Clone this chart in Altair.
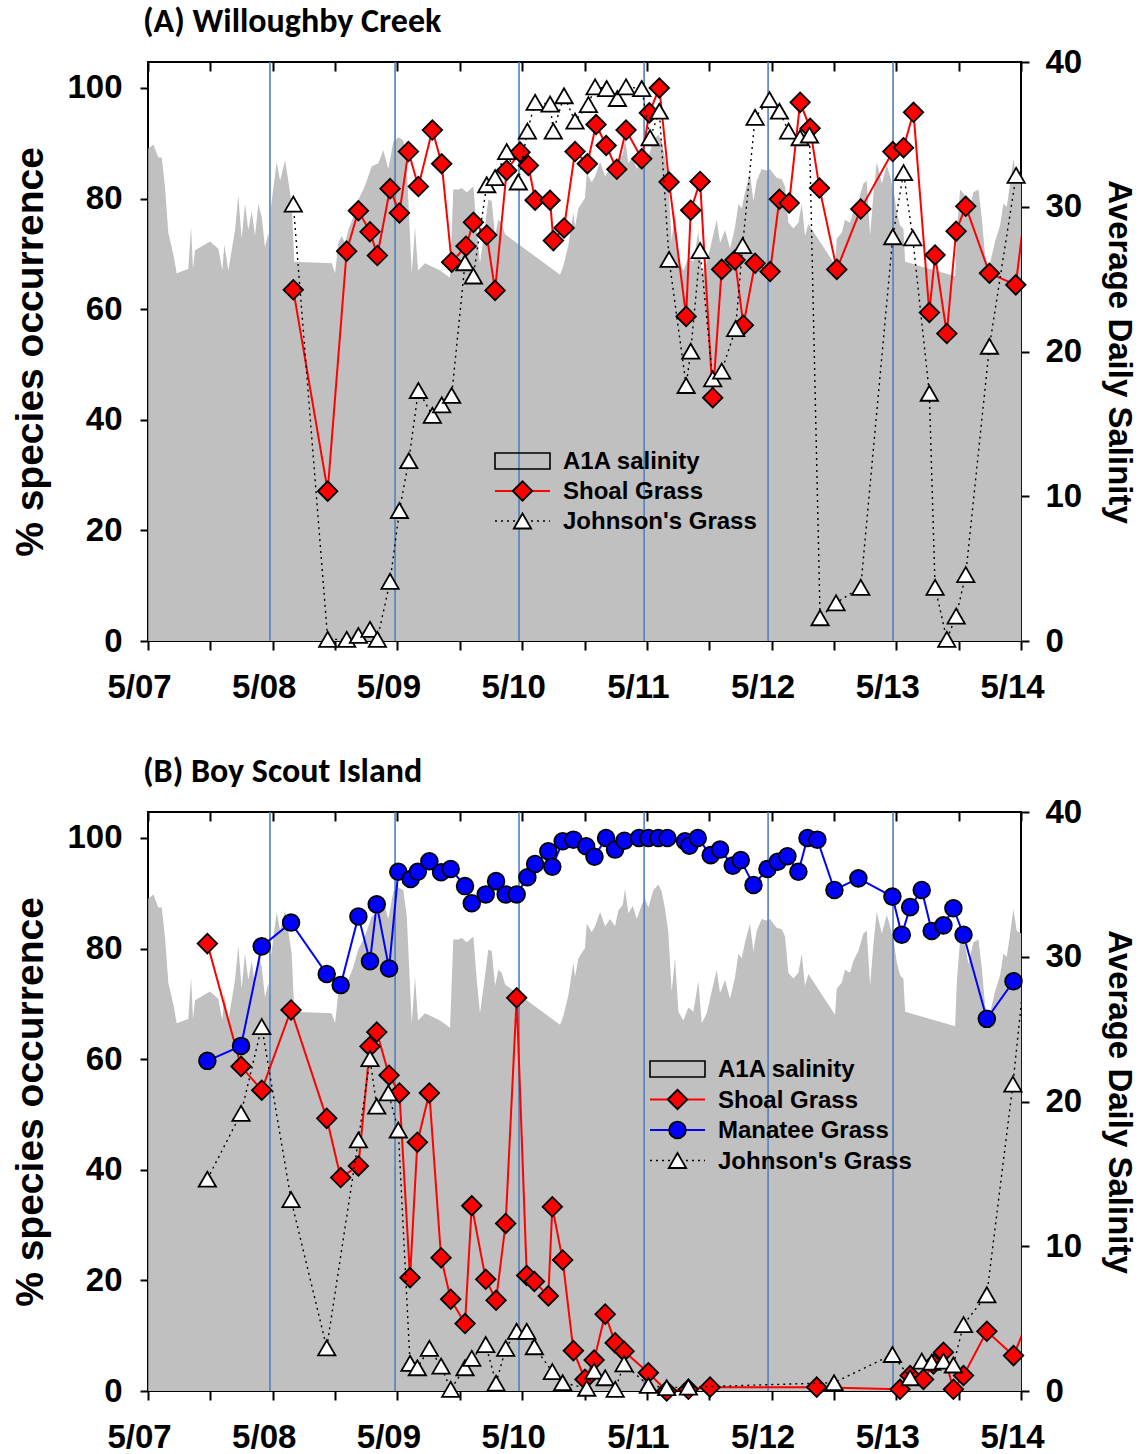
import altair as alt
import pandas as pd

# x positions are years since May 2007 (0 = "5/07", 7 = "5/14")
SALINITY = [(0.002,34.0),(0.043,34.3),(0.083,33.4),(0.110,33.4),(0.136,31.4),(0.163,28.2),(0.190,27.2),(0.208,26.5),(0.230,25.4),(0.323,25.7),(0.345,28.6),(0.361,25.7),(0.377,27.0),(0.497,27.6),(0.564,27.1),(0.596,25.6),(0.612,27.4),(0.644,25.6),(0.698,28.4),(0.724,30.8),(0.751,27.8),(0.778,30.2),(0.804,28.4),(0.832,29.7),(0.858,28.0),(0.885,30.2),(0.912,29.3),(0.938,27.2),(0.965,28.2),(0.978,27.0),(0.986,30.0),(1.032,33.1),(1.059,31.8),(1.099,33.2),(1.125,31.8),(1.152,30.2),(1.173,26.2),(1.473,26.1),(1.500,25.4),(1.526,27.5),(1.553,28.0),(1.580,27.5),(1.606,28.4),(1.646,29.3),(1.686,30.5),(1.727,31.2),(1.754,31.8),(1.794,32.8),(1.847,33.0),(1.887,33.9),(1.927,32.6),(1.967,34.5),(2.007,34.8),(2.047,34.6),(2.075,32.8),(2.115,25.4),(2.141,28.6),(2.165,25.6),(2.221,26.1),(2.342,25.6),(2.422,25.1),(2.448,31.2),(2.488,31.2),(2.516,31.3),(2.556,31.0),(2.609,31.4),(2.636,28.4),(2.662,26.1),(2.689,27.8),(2.729,30.5),(2.756,30.4),(2.783,28.0),(2.809,29.1),(2.836,28.9),(2.863,28.1),(3.304,25.3),(3.330,25.9),(3.370,27.3),(3.411,29.6),(3.424,28.6),(3.451,29.9),(3.504,30.6),(3.518,32.3),(3.558,31.7),(3.585,32.1),(3.625,33.1),(3.665,32.1),(3.705,32.6),(3.745,32.1),(3.771,33.2),(3.807,33.6),(3.825,34.7),(3.852,33.0),(3.887,33.5),(3.919,32.6),(3.959,33.6),(3.986,34.0),(4.012,33.4),(4.052,34.6),(4.092,35.0),(4.119,34.5),(4.146,33.3),(4.172,31.7),(4.199,27.6),(4.226,29.9),(4.253,26.2),(4.293,25.6),(4.333,26.5),(4.373,26.2),(4.413,28.3),(4.440,25.4),(4.480,26.1),(4.520,27.6),(4.560,29.1),(4.587,27.5),(4.627,28.4),(4.667,27.1),(4.707,28.6),(4.734,30.2),(4.761,29.9),(4.787,31.0),(4.827,32.3),(4.854,30.4),(4.881,31.8),(4.921,32.6),(4.961,32.5),(4.988,32.6),(5.014,32.3),(5.041,32.0),(5.082,31.9),(5.108,31.4),(5.135,28.9),(5.175,28.5),(5.215,28.9),(5.242,30.2),(5.268,28.0),(5.295,28.8),(5.509,26.0),(5.523,27.8),(5.563,28.2),(5.588,29.1),(5.629,28.9),(5.656,29.7),(5.696,30.4),(5.736,31.6),(5.763,31.8),(5.790,28.0),(5.816,30.8),(5.843,33.1),(5.884,31.6),(5.924,32.9),(5.950,32.1),(5.985,30.8),(6.004,29.6),(6.031,28.7),(6.057,28.5),(6.071,26.2),(6.472,25.2),(6.485,28.2),(6.512,31.2),(6.552,30.8),(6.578,29.5),(6.618,31.0),(6.659,31.2),(6.686,29.2),(6.712,26.6),(6.738,25.6),(6.792,27.6),(6.832,28.7),(6.859,30.2),(6.886,30.0),(6.913,31.6),(6.939,33.3),(6.966,31.8),(7.001,31.6)]

A_SHOAL = [(1.165,63.5),(1.441,27.1),(1.593,70.5),(1.687,77.8),(1.780,74.0),(1.839,69.7),(1.941,81.8),(2.016,77.4),(2.088,88.5),(2.168,82.2),(2.280,92.4),(2.355,86.3),(2.435,68.5),(2.550,71.4),(2.609,75.7),(2.716,73.4),(2.783,63.4),(2.876,85.1),(2.983,88.4),(3.050,86.0),(3.104,79.7),(3.224,79.7),(3.250,72.4),(3.336,74.7),(3.424,88.5),(3.523,86.3),(3.593,93.4),(3.674,89.6),(3.759,85.3),(3.833,92.4),(3.959,87.2),(4.020,95.5),(4.100,100.0),(4.178,83.0),(4.315,58.7),(4.352,77.9),(4.427,83.1),(4.528,44.0),(4.600,67.2),(4.707,68.9),(4.774,57.1),(4.868,68.3),(4.988,66.8),(5.063,79.9),(5.141,79.2),(5.229,97.4),(5.309,92.7),(5.384,81.9),(5.523,67.2),(5.715,78.1),(5.972,88.5),(6.058,89.2),(6.138,95.6),(6.265,59.4),(6.311,69.8),(6.405,55.6),(6.480,74.1),(6.557,78.6),(6.747,66.5),(6.958,64.4),(7.060,83.0)]

A_JOHNSON = [(1.165,79.0),(1.441,0.3),(1.593,0.3),(1.687,1.0),(1.780,2.1),(1.839,0.3),(1.941,10.8),(2.016,23.6),(2.091,32.6),(2.168,45.3),(2.280,40.8),(2.355,42.7),(2.435,44.4),(2.542,68.4),(2.609,66.0),(2.716,82.5),(2.783,83.8),(2.876,88.5),(2.969,83.0),(3.042,92.2),(3.104,97.4),(3.224,97.1),(3.250,92.2),(3.336,98.6),(3.424,94.0),(3.531,97.0),(3.585,100.2),(3.678,99.9),(3.764,98.1),(3.833,100.2),(3.959,99.9),(4.026,91.0),(4.100,95.8),(4.178,69.0),(4.315,46.2),(4.352,52.4),(4.427,70.6),(4.528,47.4),(4.600,48.8),(4.712,56.5),(4.768,71.5),(4.868,94.7),(4.983,97.9),(5.063,95.8),(5.136,92.2),(5.229,91.0),(5.304,91.5),(5.389,4.2),(5.517,6.9),(5.715,9.7),(5.972,73.1),(6.058,84.7),(6.132,72.9),(6.265,44.8),(6.311,9.7),(6.405,0.3),(6.480,4.5),(6.557,12.0),(6.747,53.3),(6.961,84.2)]

B_SHOAL = [(0.476,80.9),(0.746,58.7),(0.912,54.4),(1.147,68.9),(1.433,49.3),(1.545,38.6),(1.687,40.7),(1.780,62.3),(1.834,64.9),(1.933,57.1),(2.016,53.9),(2.101,20.5),(2.160,45.0),(2.256,53.9),(2.350,24.1),(2.427,16.6),(2.542,12.2),(2.596,33.5),(2.708,20.2),(2.791,16.4),(2.868,30.3),(2.956,71.1),(3.037,20.9),(3.098,19.8),(3.210,17.2),(3.242,33.3),(3.325,23.7),(3.411,7.3),(3.504,2.1),(3.577,5.6),(3.666,13.9),(3.746,8.7),(3.817,7.2),(4.012,3.3),(4.159,0.0),(4.333,0.3),(4.507,0.7),(5.362,0.7),(6.030,0.3),(6.111,2.8),(6.218,2.1),(6.298,4.9),(6.378,7.0),(6.458,0.3),(6.539,2.8),(6.726,10.8),(6.940,6.4),(7.060,13.0)]

B_MANATEE = [(0.476,59.7),(0.746,62.4),(0.912,80.4),(1.147,84.7),(1.433,75.4),(1.545,73.4),(1.687,85.8),(1.780,77.7),(1.834,88.0),(1.933,76.4),(2.007,93.9),(2.106,92.6),(2.163,93.9),(2.256,95.8),(2.350,93.8),(2.427,94.4),(2.542,91.3),(2.596,88.2),(2.708,89.8),(2.791,92.2),(2.868,89.8),(2.956,89.8),(3.042,92.9),(3.104,95.3),(3.210,97.6),(3.242,94.8),(3.325,99.4),(3.411,99.7),(3.513,98.5),(3.580,96.6),(3.673,100.0),(3.745,97.9),(3.820,99.5),(3.937,100.0),(4.012,100.0),(4.092,100.0),(4.165,100.0),(4.306,99.4),(4.341,98.6),(4.408,100.0),(4.512,96.9),(4.587,97.9),(4.689,95.0),(4.753,96.0),(4.855,91.5),(4.967,94.4),(5.049,95.7),(5.127,96.7),(5.215,93.9),(5.288,100.0),(5.367,99.7),(5.504,90.6),(5.696,92.7),(5.969,89.4),(6.044,82.5),(6.111,87.5),(6.204,90.6),(6.284,83.2),(6.378,84.2),(6.458,87.3),(6.539,82.5),(6.726,67.3),(6.940,74.1)]

B_JOHNSON = [(0.476,38.3),(0.746,50.2),(0.912,65.9),(1.147,34.6),(1.433,7.8),(1.687,45.4),(1.780,60.1),(1.834,51.5),(1.927,53.9),(2.007,47.2),(2.101,5.0),(2.160,4.2),(2.256,7.7),(2.350,4.5),(2.427,0.3),(2.542,4.2),(2.596,5.9),(2.708,8.4),(2.791,1.4),(2.868,7.7),(2.956,10.8),(3.037,10.8),(3.098,8.0),(3.242,3.5),(3.325,1.5),(3.518,0.5),(3.577,3.6),(3.666,2.4),(3.746,0.3),(3.817,4.9),(4.012,1.0),(4.159,0.6),(4.333,0.7),(5.501,1.5),(5.969,6.6),(6.111,2.4),(6.204,5.4),(6.284,5.2),(6.378,5.4),(6.458,4.7),(6.539,12.0),(6.726,17.4),(6.935,55.5),(7.060,82.5)]

YEAR_LINES = [0.978, 1.981, 2.975, 3.978, 4.972, 5.974]
X_TICKS = [i * 0.5 for i in range(15)]
X_LABELS = ["5/07", "5/08", "5/09", "5/10", "5/11", "5/12", "5/13", "5/14"]
PCT_TICKS = [0, 20, 40, 60, 80, 100]
SAL_TICKS = [0, 10, 20, 30, 40]

W, H = 873, 579
SANS = "Liberation Sans, Arial"
TITLEF = "Carlito, Calibri, Lato"


def df(pairs, col):
    return pd.DataFrame(pairs, columns=["t", col])


sal_df = df(SALINITY, "s")
year_df = pd.DataFrame({"t": YEAR_LINES})
one = pd.DataFrame({"k": [0]})

xscale = alt.Scale(domain=[0, 7], nice=False, zero=False)
pscale = alt.Scale(domain=[0, 104.7], nice=False)
sscale = alt.Scale(domain=[0, 40], nice=False)

label_expr = "datum.value % 1 === 0 ? " + str(X_LABELS) + "[round(datum.value)] : ''"

bottom_axis = alt.Axis(values=X_TICKS, labelExpr=label_expr, tickSize=9, tickWidth=2,
                       tickColor="black", domain=False, grid=False, labelFont=SANS,
                       labelFontWeight="bold", labelFontSize=33, labelColor="black",
                       labelPadding=21, labelOffset=-9, labelFlush=False, labelOverlap=False,
                       title=None)
top_axis = alt.Axis(orient="bottom", offset=-H, values=X_TICKS, labels=False, tickSize=9,
                    tickWidth=2, tickColor="black", domain=False, grid=False, title=None)
left_axis = alt.Axis(orient="left", values=PCT_TICKS, tickSize=8, tickWidth=2, tickColor="black",
                     domain=False, grid=False, labelFont=SANS, labelFontWeight="bold",
                     labelFontSize=33, labelColor="black", labelPadding=18,
                     title="% species occurrence", titleFont=SANS, titleFontSize=39,
                     titleFontWeight="bold", titleColor="black", titlePadding=16)
right_axis = alt.Axis(orient="right", values=SAL_TICKS, tickSize=8, tickWidth=2, tickColor="black",
                      domain=False, grid=False, labelFont=SANS, labelFontWeight="bold",
                      labelFontSize=33, labelColor="black", labelPadding=16,
                      title="Average Daily Salinity", titleFont=SANS, titleFontSize=33,
                      titleFontWeight="bold", titleColor="black", titlePadding=20)


def series(pairs, color, shape, size, dash=None, show_axis=False, fill=None):
    d = df(pairs, "v")
    y_axis = left_axis if show_axis else None
    line_kw = dict(color=color, strokeWidth=2 if dash is None else 1.4, clip=True)
    if dash is not None:
        line_kw["strokeDash"] = dash
    line = alt.Chart(d).mark_line(**line_kw).encode(
        x=alt.X("t:Q", scale=xscale, axis=None),
        y=alt.Y("v:Q", scale=pscale, axis=y_axis),
    )
    pts = alt.Chart(d).transform_filter("datum.t <= 7").mark_point(
        shape=shape, size=size, filled=True, fill=fill or color, stroke="black",
        strokeWidth=1.8, opacity=1,
    ).encode(
        x=alt.X("t:Q", scale=xscale, axis=None),
        y=alt.Y("v:Q", scale=pscale, axis=None),
    )
    return [line, pts]


def legend(x0, y0, step, entries):
    layers = []
    x1, x2 = x0, x0 + 55
    xm = (x1 + x2) / 2
    for i, (label, kind) in enumerate(entries):
        y = y0 + i * step
        if kind == "area":
            layers.append(alt.Chart(one).mark_rect(fillOpacity=0, stroke="black", strokeWidth=1.6).encode(
                x=alt.value(x1), x2=alt.value(x2), y=alt.value(y - 8), y2=alt.value(y + 8)))
        else:
            color, shape, size, dash, fill = kind
            rule_kw = dict(color=color, strokeWidth=2 if dash is None else 1.4)
            if dash is not None:
                rule_kw["strokeDash"] = dash
            layers.append(alt.Chart(one).mark_rule(**rule_kw).encode(
                x=alt.value(x1), x2=alt.value(x2), y=alt.value(y)))
            layers.append(alt.Chart(one).mark_point(
                shape=shape, size=size, filled=True, fill=fill, stroke="black",
                strokeWidth=1.8, opacity=1).encode(x=alt.value(xm), y=alt.value(y)))
        layers.append(alt.Chart(one).mark_text(
            align="left", baseline="middle", font=SANS, fontSize=24, fontWeight="bold",
            color="black").encode(x=alt.value(x2 + 13), y=alt.value(y + 1), text=alt.value(label)))
    return layers


SHOAL_STYLE = ("red", "diamond", 380, None, "red")
MANATEE_STYLE = ("blue", "circle", 280, None, "blue")
JOHNSON_STYLE = ("black", "triangle-up", 300, [2, 4], "white")


def panel(title, shoal, johnson, manatee, legend_pos):
    area = alt.Chart(sal_df).mark_area(color="#c0c0c0", opacity=1, interpolate="linear").encode(
        x=alt.X("t:Q", scale=xscale, axis=bottom_axis),
        y=alt.Y("s:Q", scale=sscale, axis=right_axis),
    )
    years = alt.Chart(year_df).mark_rule(color="#4f81bd", strokeWidth=1.6).encode(
        x=alt.X("t:Q", scale=xscale, axis=top_axis),
    )
    layers = [area, years]
    layers += series(shoal, "red", "diamond", 380, show_axis=True)
    entries = [("A1A salinity", "area"), ("Shoal Grass", SHOAL_STYLE)]
    if manatee is not None:
        layers += series(manatee, "blue", "circle", 280)
        entries.append(("Manatee Grass", MANATEE_STYLE))
    layers += series(johnson, "black", "triangle-up", 300, dash=[2, 4], fill="white")
    entries.append(("Johnson's Grass", JOHNSON_STYLE))
    layers += legend(legend_pos[0], legend_pos[1], legend_pos[2], entries)
    return alt.layer(*layers).resolve_scale(y="independent").resolve_axis(x="independent").properties(
        width=W, height=H,
        title=alt.TitleParams(title, anchor="start", frame="group", font=TITLEF, fontSize=34,
                              fontWeight="bold", color="black", dx=-5, offset=7),
    )


pA = panel("(A) Willoughby Creek", A_SHOAL, A_JOHNSON, None, (347, 399, 30))
pB = panel("(B) Boy Scout Island", B_SHOAL, B_JOHNSON, B_MANATEE, (502, 257, 30.5))

chart = alt.vconcat(pA, pB, spacing=49).properties(
    padding={"left": 10, "top": 4, "right": 4, "bottom": 4},
    background="white",
).configure_view(stroke="black", strokeWidth=2)

chart.save("out.html", embed_options={"renderer": "svg", "actions": False})
